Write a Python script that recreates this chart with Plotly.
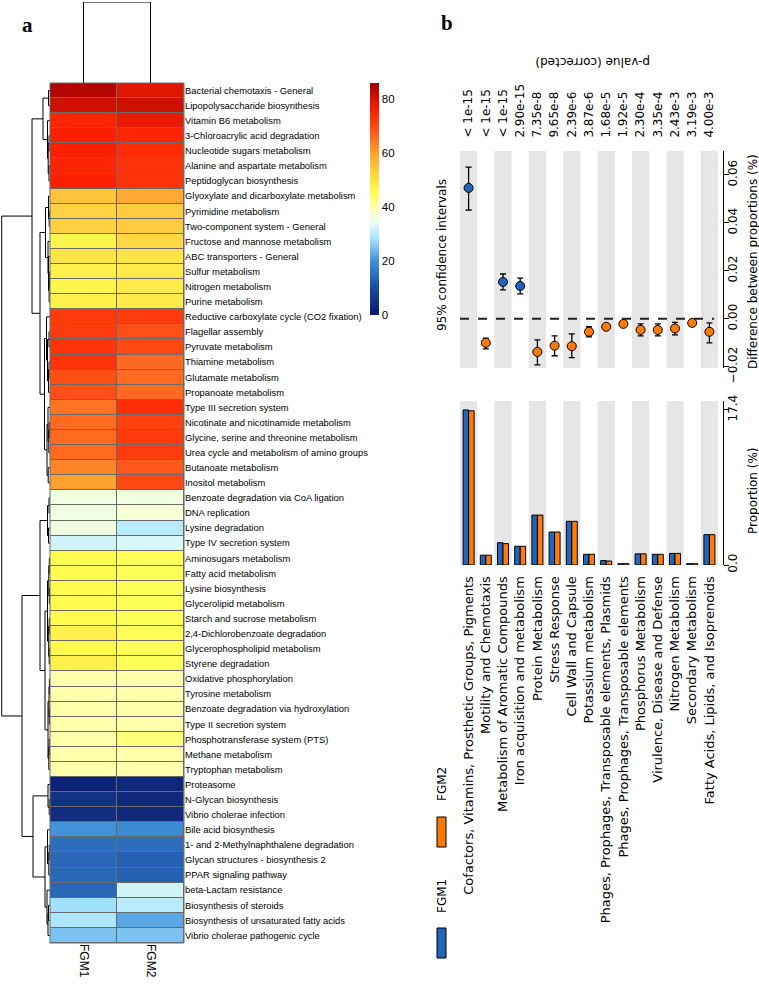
import plotly.graph_objects as go

W, H = 759, 992
def px(x): return x / W
def py(y): return 1 - y / H

# ---------------- Panel a data ----------------
PATHWAYS = [
    "Bacterial chemotaxis - General", "Lipopolysaccharide biosynthesis", "Vitamin B6 metabolism",
    "3-Chloroacrylic acid degradation", "Nucleotide sugars metabolism", "Alanine and aspartate metabolism",
    "Peptidoglycan biosynthesis", "Glyoxylate and dicarboxylate metabolism", "Pyrimidine metabolism",
    "Two-component system - General", "Fructose and mannose metabolism", "ABC transporters - General",
    "Sulfur metabolism", "Nitrogen metabolism", "Purine metabolism",
    "Reductive carboxylate cycle (CO2 fixation)", "Flagellar assembly", "Pyruvate metabolism",
    "Thiamine metabolism", "Glutamate metabolism", "Propanoate metabolism",
    "Type III secretion system", "Nicotinate and nicotinamide metabolism",
    "Glycine, serine and threonine metabolism", "Urea cycle and metabolism of amino groups",
    "Butanoate metabolism", "Inositol metabolism", "Benzoate degradation via CoA ligation",
    "DNA replication", "Lysine degradation", "Type IV secretion system", "Aminosugars metabolism",
    "Fatty acid metabolism", "Lysine biosynthesis", "Glycerolipid metabolism",
    "Starch and sucrose metabolism", "2,4-Dichlorobenzoate degradation",
    "Glycerophospholipid metabolism", "Styrene degradation", "Oxidative phosphorylation",
    "Tyrosine metabolism", "Benzoate degradation via hydroxylation", "Type II secretion system",
    "Phosphotransferase system (PTS)", "Methane metabolism", "Tryptophan metabolism",
    "Proteasome", "N-Glycan biosynthesis", "Vibrio cholerae infection", "Bile acid biosynthesis",
    "1- and 2-Methylnaphthalene degradation", "Glycan structures - biosynthesis 2",
    "PPAR signaling pathway", "beta-Lactam resistance", "Biosynthesis of steroids",
    "Biosynthesis of unsaturated fatty acids", "Vibrio cholerae pathogenic cycle",
]
FGM1 = [84, 81, 75, 76, 76, 75, 76, 55, 53, 53, 47, 50, 48, 47, 48,
        72, 72, 73, 73, 69, 69, 65, 66, 66, 66, 63, 60,
        36, 36, 36, 32, 46, 46, 46, 46, 46, 48, 46, 48,
        40, 40, 40, 40, 40, 40, 40,
        2, 5, 4, 20, 15, 14, 14, 14, 28, 29, 25]
FGM2 = [79, 81, 78, 75, 74, 73, 73, 59, 54, 54, 52, 50, 49, 49, 49,
        72, 69, 70, 66, 66, 66, 74, 71, 72, 72, 68, 70,
        36, 37, 30, 33, 45, 45, 45, 45, 45, 45, 45, 45,
        40, 40, 40, 40, 43, 40, 40,
        3, 3, 3, 19, 15, 13, 13, 32, 30, 22, 25]
SAMPLES = ["FGM1", "FGM2"]
SAMPLE_MERGE_HEIGHT = 1.0

# hclust-style merge table for the row dendrogram (negative = leaf, positive = earlier merge)
MERGE_A = [-1, -4, -6, 2, -3, 1, -9, -8, -13, -15, -12, -11, 8, -17, -19, -21, 14, -16, -23, -25,
           -22, -26, 21, 18, 13, 6, -28, -30, 27, -32, -34, 30, -36, -38, 33, 32, -40, -42, 37,
           -44, -46, 39, 36, 29, -48, -47, -51, -53, -50, -55, -57, -54, 49, 46, 44, 26]
MERGE_B = [-2, -5, -7, 3, 4, 5, -10, 7, -14, 9, 10, 11, 12, -18, -20, 15, 16, 17, -24, 19,
           20, -27, 22, 23, 24, 25, -29, -31, 28, -33, -35, 31, -37, -39, 34, 35, -41, -43, 38,
           -45, 40, 41, 42, 43, -49, 45, -52, 47, 48, -56, 50, 51, 52, 53, 54, 55]
MERGE_H = [1.5, 1.0, 1.0, 1.8, 2.5, 7.0, 0.8, 1.5, 0.6, 0.9, 1.5, 2.0, 4.5, 1.0, 1.0, 1.5, 2.5,
           3.5, 0.8, 1.2, 2.0, 1.8, 3.0, 5.5, 10.0, 18.0, 1.0, 1.5, 2.5, 0.7, 0.7, 1.2, 0.8, 0.8,
           1.3, 2.5, 0.6, 0.7, 1.0, 0.8, 1.2, 2.0, 5.0, 10.0, 0.8, 2.0, 0.8, 1.2, 2.5, 1.5, 2.0,
           3.0, 5.0, 17.0, 28.0, 48.3]

# ---------------- Panel b data ----------------
CATEGORIES = [
    "Cofactors, Vitamins, Prosthetic Groups, Pigments", "Motility and Chemotaxis",
    "Metabolism of Aromatic Compounds", "Iron acquisition and metabolism", "Protein Metabolism",
    "Stress Response", "Cell Wall and Capsule", "Potassium metabolism",
    "Phages, Prophages, Transposable elements, Plasmids", "Phages, Prophages, Transposable elements",
    "Phosphorus Metabolism", "Virulence, Disease and Defense", "Nitrogen Metabolism",
    "Secondary Metabolism", "Fatty Acids, Lipids, and Isoprenoids",
]
PVALUES = ["< 1e-15", "< 1e-15", "< 1e-15", "2.90e-15", "7.35e-8", "9.65e-8", "2.39e-6", "3.87e-6",
           "1.68e-5", "1.92e-5", "2.30e-4", "3.35e-4", "2.43e-3", "3.19e-3", "4.00e-3"]
PROP_FGM1 = [17.4, 1.1, 2.5, 2.1, 5.6, 3.7, 4.9, 1.2, 0.5, 0.15, 1.25, 1.2, 1.3, 0.15, 3.4]
PROP_FGM2 = [17.3, 1.1, 2.4, 2.1, 5.6, 3.7, 4.9, 1.2, 0.45, 0.15, 1.25, 1.2, 1.3, 0.15, 3.4]
DIFF = [0.0546, -0.0100, 0.0154, 0.0137, -0.0138, -0.0112, -0.0114, -0.0054, -0.0033, -0.0021,
        -0.0046, -0.0046, -0.0040, -0.0017, -0.0054]
CI_LOW = [0.0454, -0.0125, 0.0121, 0.0104, -0.0192, -0.0154, -0.0162, -0.0075, -0.0046, -0.0028,
          -0.0071, -0.0071, -0.0067, -0.0024, -0.0100]
CI_HIGH = [0.0633, -0.0080, 0.0187, 0.0170, -0.0088, -0.0071, -0.0063, -0.0033, -0.0020, -0.0014,
           -0.0021, -0.0021, -0.0015, -0.0010, -0.0017]

BLUE = "#2465bc"
ORANGE = "#ff7a0a"
SANS = "Liberation Sans, Arial, sans-serif"
DEJAVU = "DejaVu Sans, sans-serif"

COLORSCALE = [
    [0.00, "#08186a"], [0.12, "#1c4ea0"], [0.23, "#3f8fd8"], [0.33, "#a6e4ff"],
    [0.40, "#e8fff4"], [0.45, "#ffffc0"], [0.53, "#ffff50"], [0.62, "#ffd040"],
    [0.70, "#ffa030"], [0.80, "#ff5018"], [0.88, "#ff2000"], [1.00, "#a00000"],
]

fig = go.Figure()

rows = list(range(len(PATHWAYS)))
z = [[a, b] for a, b in zip(FGM1, FGM2)]

fig.add_trace(go.Heatmap(
    z=z, x=[0, 1], y=rows, colorscale=COLORSCALE, zmin=0, zmax=86,
    xgap=1, ygap=1, xaxis="x", yaxis="y",
    colorbar=dict(x=px(370), xanchor="left", xpad=0, y=py(199), yanchor="middle", ypad=0,
                  len=232, lenmode="pixels", thickness=9, thicknessmode="pixels",
                  tickvals=[0, 20, 40, 60, 80], ticks="", outlinewidth=0,
                  tickfont=dict(family=SANS, size=11.5, color="black")),
))

# top dendrogram (two samples)
tx = [0, 0, 1, 1]
ty = [0, SAMPLE_MERGE_HEIGHT, SAMPLE_MERGE_HEIGHT, 0]
fig.add_trace(go.Scatter(x=tx, y=ty, mode="lines", line=dict(color="black", width=1),
                         xaxis="x2", yaxis="y2", showlegend=False, hoverinfo="skip"))

# left dendrogram from merge table
pos = {}
def node(k):
    if k < 0:
        return float(-k - 1), 0.0
    return pos[k], MERGE_H[k - 1]
dx, dy = [], []
for j, (a, b, h) in enumerate(zip(MERGE_A, MERGE_B, MERGE_H), start=1):
    ya, ha = node(a)
    yb, hb = node(b)
    dx += [ha, h, h, hb, None]
    dy += [ya, ya, yb, yb, None]
    pos[j] = (ya + yb) / 2
fig.add_trace(go.Scatter(x=dx, y=dy, mode="lines", line=dict(color="black", width=1),
                         xaxis="x3", yaxis="y3", showlegend=False, hoverinfo="skip"))

# ---------- panel b ----------
idx = list(range(len(CATEGORIES)))
colors = [BLUE if d > 0 else ORANGE for d in DIFF]
fig.add_trace(go.Scatter(
    x=idx, y=DIFF, mode="markers", xaxis="x4", yaxis="y4", showlegend=False,
    marker=dict(size=9, color=colors, line=dict(color="black", width=1)),
    error_y=dict(type="data", array=[h - d for h, d in zip(CI_HIGH, DIFF)],
                 arrayminus=[d - l for d, l in zip(DIFF, CI_LOW)],
                 color="black", thickness=1.3, width=3),
))
fig.add_trace(go.Bar(x=idx, y=PROP_FGM1, name="FGM1", marker=dict(color=BLUE, line=dict(color="black", width=1)),
                     xaxis="x5", yaxis="y5", showlegend=False))
fig.add_trace(go.Bar(x=idx, y=PROP_FGM2, name="FGM2", marker=dict(color=ORANGE, line=dict(color="black", width=1)),
                     xaxis="x5", yaxis="y5", showlegend=False))

shapes = []
shapes.append(dict(type="rect", xref="x domain", yref="y domain", x0=0, x1=1, y0=0, y1=1,
                   fillcolor="#6a6a6a", line=dict(width=0), layer="below"))
shapes.append(dict(type="rect", xref="x domain", yref="y domain", x0=0, x1=1, y0=0, y1=1,
                   line=dict(color="#6a6a6a", width=1), layer="above"))
for i in idx:
    if i % 2 == 0:
        for xr, yr in (("x4", "y4 domain"), ("x5", "y5 domain")):
            shapes.append(dict(type="rect", xref=xr, yref=yr, x0=i - 0.5, x1=i + 0.5, y0=0, y1=1,
                               fillcolor="#e6e6e6", line=dict(width=0), layer="below"))
shapes.append(dict(type="line", xref="x4 domain", yref="y4", x0=0, x1=0.985, y0=0, y1=0,
                   line=dict(color="#222222", width=2, dash="dash")))
shapes.append(dict(type="rect", xref="paper", yref="paper", x0=px(437), x1=px(446), y0=py(958), y1=py(928),
                   fillcolor=BLUE, line=dict(color="black", width=1)))
shapes.append(dict(type="rect", xref="paper", yref="paper", x0=px(437), x1=px(446), y0=py(847), y1=py(817),
                   fillcolor=ORANGE, line=dict(color="black", width=1)))

def note(text, x, y, angle=0, size=12, family=DEJAVU):
    return dict(text=text, x=px(x), y=py(y), xref="paper", yref="paper", showarrow=False,
                xanchor="center", yanchor="middle", textangle=angle,
                font=dict(family=family, size=size, color="black"))

annotations = [
    note("<b>a</b>", 27, 25, size=21, family="Liberation Serif, serif"),
    note("<b>b</b>", 447, 23, size=21, family="Liberation Serif, serif"),
    note("p-value (corrected)", 593, 62, angle=180),
    note("95% confidence intervals", 442, 255, angle=-90),
    note("Difference between proportions (%)", 753, 262, angle=-90),
    note("Proportion (%)", 753, 491, angle=-90),
    note("FGM1", 442, 896, angle=-90),
    note("FGM2", 442, 784, angle=-90),
]

hm_x = [px(50), px(184)]
hm_y = [py(943), py(83)]
bx = [px(460), px(718)]

fig.update_layout(
    width=W, height=H, autosize=False, margin=dict(l=0, r=0, t=0, b=0, autoexpand=False),
    paper_bgcolor="white", plot_bgcolor="white", showlegend=False,
    barmode="group", bargap=0.36, bargroupgap=0,
    shapes=shapes, annotations=annotations,
    xaxis=dict(domain=hm_x, range=[-0.5, 1.5], tickvals=[0, 1], ticktext=SAMPLES, tickangle=90,
               ticks="", showgrid=False, zeroline=False, showline=False, automargin=False,
               tickfont=dict(family=SANS, size=12, color="black")),
    yaxis=dict(domain=hm_y, range=[len(rows) - 0.5, -0.5], tickvals=rows, ticktext=PATHWAYS,
               side="right", ticks="", showgrid=False, zeroline=False, showline=False, automargin=False,
               tickfont=dict(family=SANS, size=9.4, color="black")),
    xaxis2=dict(domain=hm_x, range=[-0.5, 1.5], visible=False, anchor="y2", automargin=False),
    yaxis2=dict(domain=[py(83), py(2)], range=[0, SAMPLE_MERGE_HEIGHT], visible=False, anchor="x2",
                automargin=False),
    xaxis3=dict(domain=[0, px(50)], range=[50, 0], visible=False, anchor="y3", automargin=False),
    yaxis3=dict(domain=hm_y, range=[len(rows) - 0.5, -0.5], visible=False, anchor="x3", automargin=False),
    xaxis4=dict(domain=bx, range=[-0.5, len(idx) - 0.5], anchor="y4", side="top",
                tickvals=idx, ticktext=PVALUES, tickangle=-90, ticks="outside", ticklen=10,
                tickcolor="rgba(0,0,0,0)", showgrid=False, zeroline=False, showline=False,
                automargin=False, tickfont=dict(family=DEJAVU, size=12, color="black")),
    yaxis4=dict(domain=[py(368), py(151)], range=[-0.0205, 0.07], anchor="free", position=px(723),
                side="right", showline=True, linecolor="black", linewidth=1, ticks="outside",
                ticklen=5, tickcolor="black", tickvals=[-0.02, 0.0, 0.02, 0.04, 0.06],
                ticktext=["\u22120.02", "0.00", "0.02", "0.04", "0.06"], tickangle=-90,
                ticklabelstandoff=-6,
                showgrid=False, zeroline=False, automargin=False,
                tickfont=dict(family=DEJAVU, size=12, color="black")),
    xaxis5=dict(domain=bx, range=[-0.5, len(idx) - 0.5], anchor="y5", tickvals=idx,
                ticktext=CATEGORIES, tickangle=-90, ticks="outside", ticklen=5,
                tickcolor="rgba(0,0,0,0)", showgrid=False, zeroline=False, showline=False,
                automargin=False, tickfont=dict(family=DEJAVU, size=13, color="black")),
    yaxis5=dict(domain=[py(565), py(401)], range=[0, 18.4], anchor="free", position=px(723),
                side="right", showline=True, linecolor="black", linewidth=1, ticks="outside",
                ticklen=5, tickcolor="black", tickvals=[0, 17.4], ticktext=["0.0", "17.4"],
                tickangle=-90, ticklabelstandoff=-6, showgrid=False, zeroline=False, automargin=False,
                tickfont=dict(family=DEJAVU, size=12, color="black")),
)

fig.write_html("out.html", config={"displayModeBar": False},
               post_script="document.body.style.margin='0px';")
